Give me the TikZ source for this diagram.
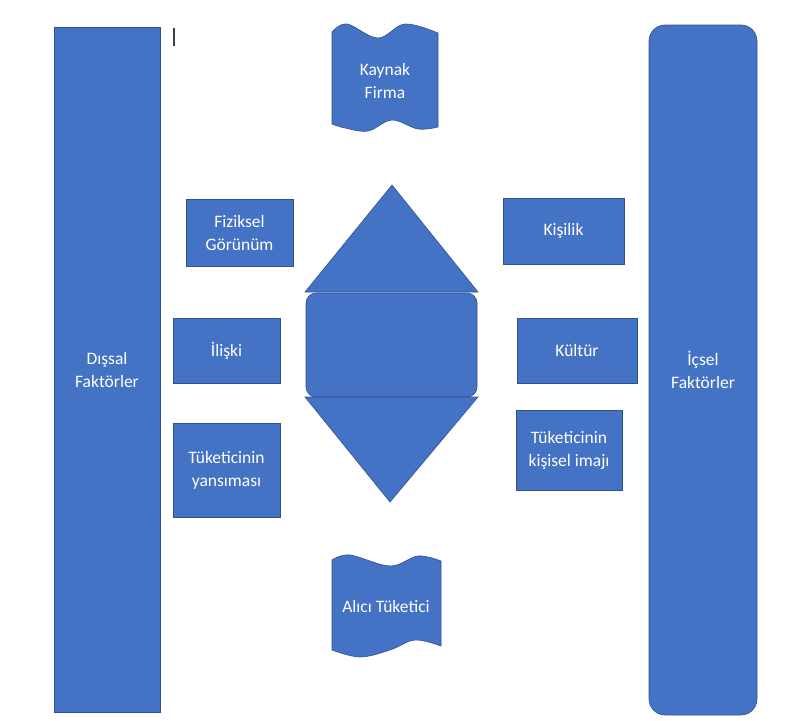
\documentclass[tikz,border=0pt]{standalone}
\usepackage{fontspec}
\setmainfont{Carlito}
\definecolor{shapeblue}{HTML}{4472C4}
\definecolor{shapeborder}{HTML}{2F528F}
\definecolor{cursorgray}{HTML}{404040}
\newcommand{\boxfont}{\fontsize{17.5}{23}\selectfont}

\begin{document}
\begin{tikzpicture}[x=1pt, y=-1pt,
    blueshape/.style={draw=shapeborder, fill=shapeblue, line width=0.6pt},
    factorbox/.style={blueshape, text=white, align=center, inner sep=0pt, font=\boxfont},
    wavelabel/.style={text=white, align=center, font=\boxfont}
  ]
  \useasboundingbox (0,0) rectangle (789,720);

  \node[factorbox, minimum width=106pt, minimum height=685pt] (dissal) at (107,369.5) {Dışsal\\Faktörler};
  \node[factorbox, rounded corners=16pt, minimum width=108pt, minimum height=690pt] (icsel) at (703,370) {İçsel\\Faktörler};

  \node[factorbox, minimum width=107pt, minimum height=67pt] (fiziksel) at (239.5,232.5) {Fiziksel\\Görünüm};
  \node[factorbox, minimum width=107pt, minimum height=65pt] (iliski) at (226.5,350.5) {İlişki};
  \node[factorbox, minimum width=107pt, minimum height=94pt] (yansima) at (226.5,470) {Tüketicinin\\yansıması};

  \node[factorbox, minimum width=121pt, minimum height=66pt] (kisilik) at (563.5,231) {Kişilik};
  \node[factorbox, minimum width=120pt, minimum height=65pt] (kultur) at (577,350.5) {Kültür};
  \node[factorbox, minimum width=106pt, minimum height=80pt] (imaj) at (569,450) {Tüketicinin\\kişisel imajı};

  \draw[blueshape] (305,292) -- (392,185) -- (478,292) -- cycle;
  \draw[blueshape, rounded corners=10pt] (306,293) rectangle (477,397);
  \draw[blueshape] (305,397) -- (478,397) -- (390,502) -- cycle;

  \draw[blueshape] plot[smooth, tension=0.6] coordinates {(332,32) (347,24) (378,38) (405,24) (438,33)}
    -- plot[smooth, tension=0.6] coordinates {(438,127) (418,129) (392,120) (368,131) (345,128) (332,124)} -- cycle;
  \node[wavelabel] (kaynak) at (385,80.5) {Kaynak\\Firma};

  \draw[blueshape] plot[smooth, tension=0.6] coordinates {(332,560) (350,555) (390,566) (418,556) (441,561)}
    -- plot[smooth, tension=0.6] coordinates {(441,646) (415,640) (390,650) (360,657) (332,650)} -- cycle;
  \node[wavelabel] (alici) at (386,606) {Alıcı Tüketici};

  \draw[cursorgray, line width=1.2pt] (174,28) -- (174,46);
\end{tikzpicture}
\end{document}
